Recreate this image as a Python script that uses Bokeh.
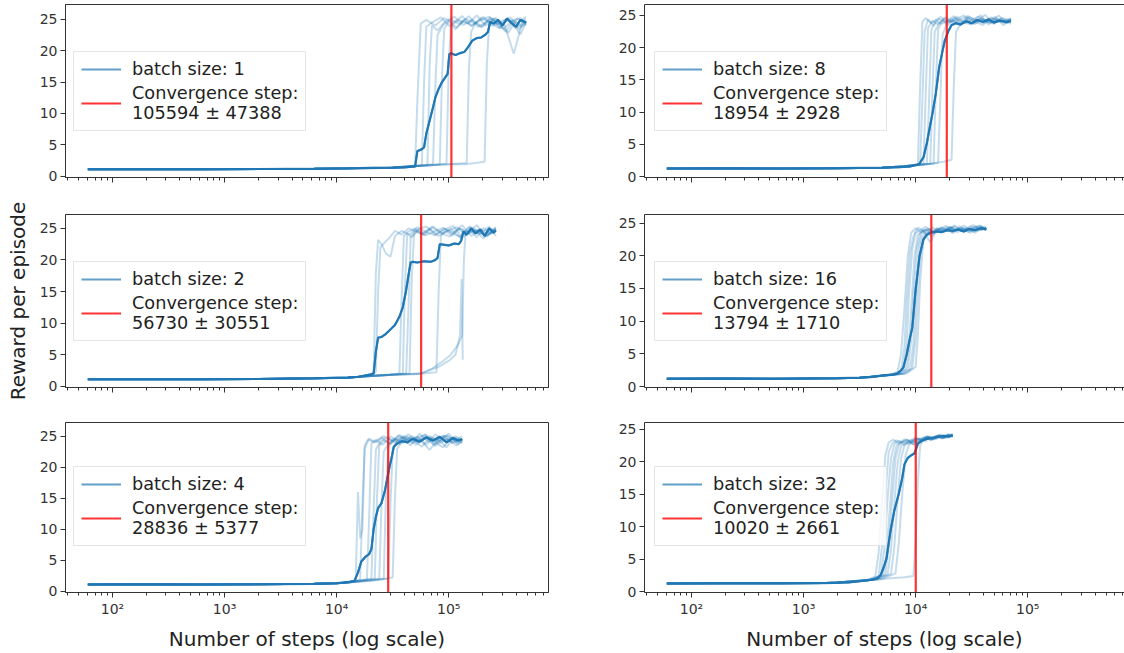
import numpy as np
from bokeh.plotting import figure
from bokeh.layouts import column, row
from bokeh.models import Range1d, FixedTicker, CustomJSTickFormatter, Legend, LegendItem, LogAxis
from bokeh.embed import file_html
from bokeh.resources import INLINE

# ---------------- data (x stored as log10 of the number of steps) ----------------
batch_sizes = [1, 2, 4, 8, 16, 32]
conv_mean = [105594, 56730, 28836, 18954, 13794, 10020]
conv_std = [47388, 30551, 5377, 2928, 1710, 2661]
y_tick_values = [0, 5, 10, 15, 20, 25]
x_tick_values = [1e2, 1e3, 1e4, 1e5]

# ---- batch size 1 ----
b1_base_lx = [1.78, 2.3, 2.8, 3.3, 3.8, 4.2]
b1_base_y = [1.10, 1.12, 1.10, 1.15, 1.20, 1.30]
b1_runs = [
    ([4.45, 4.62, 4.70, 4.72, 4.75, 4.80, 4.88, 4.96, 5.04, 5.12, 5.20, 5.28, 5.36, 5.44, 5.52, 5.60, 5.69],
     [1.3, 1.5, 1.7, 12.0, 24.3, 24.9, 24.0, 25.2, 24.4, 25.5, 23.9, 24.8, 25.4, 24.2, 25.0, 23.6, 24.7]),
    ([4.45, 4.65, 4.76, 4.78, 4.80, 4.86, 4.93, 5.01, 5.09, 5.17, 5.25, 5.33, 5.41, 5.49, 5.57, 5.64, 5.69],
     [1.35, 1.6, 1.8, 15.0, 23.8, 24.6, 25.3, 23.9, 24.9, 24.3, 25.6, 24.0, 25.1, 23.5, 24.8, 25.2, 24.0]),
    ([4.5, 4.7, 4.81, 4.83, 4.85, 4.9, 4.97, 5.05, 5.13, 5.21, 5.29, 5.37, 5.45, 5.53, 5.61, 5.69],
     [1.4, 1.6, 1.8, 18.0, 24.0, 23.2, 24.7, 25.4, 24.1, 24.9, 23.7, 25.3, 24.4, 22.8, 25.1, 24.3]),
    ([4.5, 4.75, 4.86, 4.88, 4.90, 4.95, 5.02, 5.10, 5.18, 5.26, 5.34, 5.42, 5.50, 5.58, 5.66, 5.69],
     [1.4, 1.7, 1.9, 14.0, 22.5, 24.1, 25.0, 24.2, 25.5, 23.8, 24.6, 25.2, 24.0, 19.5, 24.8, 25.0]),
    ([4.5, 4.8, 4.92, 4.94, 4.96, 5.0, 5.07, 5.15, 5.23, 5.31, 5.39, 5.47, 5.55, 5.63, 5.69],
     [1.4, 1.7, 1.9, 16.0, 23.5, 24.6, 23.7, 25.1, 24.3, 25.4, 23.9, 24.7, 25.3, 23.4, 24.6]),
    ([4.5, 4.85, 4.98, 5.00, 5.02, 5.06, 5.13, 5.21, 5.29, 5.37, 5.45, 5.53, 5.61, 5.69],
     [1.4, 1.8, 2.0, 18.0, 24.2, 23.4, 24.8, 24.0, 25.2, 24.5, 23.6, 25.0, 24.3, 25.4]),
    ([4.5, 4.8, 5.0, 5.16, 5.18, 5.20, 5.24, 5.30, 5.37, 5.44, 5.51, 5.58, 5.65, 5.69],
     [1.4, 1.7, 1.9, 2.1, 17.0, 23.0, 24.5, 23.8, 25.1, 24.2, 23.0, 24.9, 23.8, 24.6]),
    ([4.5, 4.8, 5.0, 5.15, 5.32, 5.34, 5.36, 5.40, 5.46, 5.52, 5.58, 5.64, 5.69],
     [1.4, 1.7, 1.9, 1.9, 2.3, 18.0, 24.0, 24.8, 23.5, 25.2, 24.1, 22.6, 24.5]),
]
b1_mean_lx = [1.78, 2.3, 2.8, 3.3, 3.8, 4.1, 4.3, 4.5, 4.6, 4.70, 4.72, 4.76, 4.78, 4.80, 4.83, 4.86, 4.88,
              4.91, 4.94, 4.96, 4.99, 5.005, 5.02, 5.06, 5.10, 5.14, 5.17, 5.21, 5.25, 5.29, 5.33, 5.35,
              5.37, 5.40, 5.44, 5.48, 5.52, 5.56, 5.60, 5.64, 5.69]
b1_mean_y = [1.10, 1.12, 1.10, 1.15, 1.20, 1.25, 1.30, 1.35, 1.40, 1.55, 4.0, 4.3, 4.6, 6.8, 8.9, 11.0, 12.5,
             13.9, 15.0, 15.5, 16.3, 19.4, 19.6, 19.3, 19.6, 19.8, 20.5, 21.6, 22.0, 22.1, 22.6, 23.0,
             24.6, 24.3, 24.9, 24.0, 25.1, 24.4, 23.8, 24.9, 24.5]

# ---- batch size 2 ----
b2_base_lx = [1.78, 2.3, 2.8, 3.3, 3.8, 4.1]
b2_base_y = [1.10, 1.12, 1.10, 1.15, 1.25, 1.35]
b2_runs = [
    ([4.2, 4.30, 4.33, 4.35, 4.37, 4.40, 4.44, 4.48, 4.52, 4.58, 4.65, 4.72, 4.80, 4.88, 4.96, 5.04, 5.12, 5.20, 5.28, 5.36, 5.42],
     [1.5, 1.9, 2.2, 18.0, 23.2, 22.5, 21.0, 20.5, 23.8, 24.6, 24.0, 25.2, 24.4, 23.9, 25.0, 24.3, 25.5, 23.8, 24.9, 24.2, 25.1]),
    ([4.2, 4.32, 4.35, 4.37, 4.39, 4.43, 4.47, 4.52, 4.58, 4.64, 4.71, 4.78, 4.86, 4.94, 5.02, 5.10, 5.18, 5.26, 5.34, 5.42],
     [1.5, 1.9, 2.3, 15.0, 22.0, 22.8, 23.5, 24.6, 24.0, 25.0, 24.5, 23.9, 25.3, 24.2, 24.9, 23.6, 25.2, 24.4, 23.8, 24.7]),
    ([4.2, 4.45, 4.56, 4.58, 4.60, 4.64, 4.70, 4.77, 4.85, 4.93, 5.01, 5.09, 5.17, 5.25, 5.33, 5.42],
     [1.5, 1.8, 2.0, 14.0, 23.8, 24.5, 25.0, 24.1, 25.2, 24.3, 23.7, 25.0, 24.4, 25.5, 23.9, 24.6]),
    ([4.2, 4.45, 4.59, 4.61, 4.63, 4.67, 4.73, 4.80, 4.88, 4.96, 5.04, 5.12, 5.20, 5.28, 5.36, 5.42],
     [1.5, 1.8, 2.0, 16.0, 24.2, 23.6, 24.9, 25.3, 24.0, 24.8, 25.4, 23.5, 24.6, 24.1, 25.3, 23.8]),
    ([4.2, 4.5, 4.62, 4.64, 4.66, 4.70, 4.76, 4.83, 4.91, 4.99, 5.07, 5.15, 5.23, 5.31, 5.38, 5.42],
     [1.5, 1.8, 2.0, 12.0, 23.5, 24.7, 24.1, 25.0, 23.8, 24.6, 25.2, 24.0, 24.8, 23.4, 25.0, 24.4]),
    ([4.2, 4.5, 4.65, 4.67, 4.69, 4.73, 4.79, 4.87, 4.95, 5.03, 5.11, 5.19, 5.27, 5.35, 5.42],
     [1.5, 1.8, 2.0, 17.0, 24.0, 24.8, 23.9, 24.5, 25.1, 24.2, 23.6, 25.3, 24.5, 24.0, 25.2]),
    ([4.2, 4.5, 4.7, 4.89, 4.91, 4.93, 4.97, 5.03, 5.10, 5.18, 5.26, 5.34, 5.42],
     [1.5, 1.8, 1.9, 2.2, 15.0, 23.8, 24.6, 23.9, 25.0, 24.2, 24.8, 23.7, 24.9]),
    ([4.2, 4.5, 4.75, 4.85, 4.95, 5.02, 5.08, 5.12, 5.135, 5.15, 5.19, 5.25, 5.31, 5.37, 5.42],
     [1.5, 1.8, 2.0, 2.8, 4.0, 5.0, 6.5, 8.0, 20.0, 24.0, 24.8, 23.6, 25.1, 24.3, 24.9]),
    ([4.2, 4.5, 4.75, 4.9, 5.0, 5.06, 5.10, 5.115, 5.125],
     [1.5, 1.8, 2.0, 3.0, 4.0, 5.0, 8.0, 17.0, 4.2]),
]
b2_mean_lx = [1.78, 2.3, 2.8, 3.3, 3.8, 4.1, 4.2, 4.3, 4.33, 4.35, 4.37, 4.40, 4.44, 4.48, 4.52, 4.56, 4.59,
              4.62, 4.64, 4.66, 4.68, 4.72, 4.78, 4.84, 4.88, 4.90, 4.92, 4.96, 5.00, 5.05, 5.09, 5.11,
              5.13, 5.16, 5.20, 5.24, 5.28, 5.32, 5.36, 5.40, 5.42]
b2_mean_y = [1.10, 1.12, 1.10, 1.15, 1.25, 1.40, 1.50, 1.85, 2.0, 5.5, 7.7, 7.8, 8.3, 9.0, 9.7, 11.0, 12.5,
             15.2, 17.5, 19.6, 19.7, 19.6, 19.8, 19.7, 20.0, 20.3, 22.5, 22.4, 22.3, 22.6, 22.5, 23.0,
             24.5, 24.0, 25.0, 24.2, 24.8, 23.8, 25.0, 24.3, 24.7]

# ---- batch size 4 ----
b4_base_lx = [1.78, 2.3, 2.8, 3.3, 3.8, 4.0]
b4_base_y = [1.10, 1.12, 1.08, 1.12, 1.20, 1.30]
b4_runs = [
    ([4.1, 4.17, 4.19, 4.21, 4.23, 4.25, 4.28, 4.33, 4.40, 4.48, 4.56, 4.64, 4.72, 4.80, 4.88, 4.96, 5.04, 5.12],
     [1.4, 1.8, 16.0, 8.5, 10.0, 23.5, 24.5, 24.0, 24.8, 23.7, 25.2, 24.3, 24.9, 23.6, 25.3, 24.2, 24.8, 24.4]),
    ([4.1, 4.21, 4.23, 4.25, 4.29, 4.35, 4.42, 4.50, 4.58, 4.66, 4.74, 4.82, 4.90, 4.98, 5.06, 5.12],
     [1.4, 1.9, 14.0, 23.0, 24.6, 24.0, 25.0, 24.2, 24.9, 23.5, 25.4, 24.1, 24.6, 23.2, 25.0, 24.3]),
    ([4.1, 4.27, 4.29, 4.31, 4.35, 4.41, 4.48, 4.56, 4.64, 4.72, 4.80, 4.88, 4.96, 5.04, 5.12],
     [1.4, 1.9, 12.0, 23.8, 24.4, 23.6, 24.9, 24.2, 25.3, 24.0, 24.7, 23.4, 25.1, 24.5, 23.9]),
    ([4.1, 4.31, 4.33, 4.35, 4.39, 4.45, 4.52, 4.60, 4.68, 4.76, 4.84, 4.92, 5.00, 5.08, 5.12],
     [1.4, 2.0, 13.0, 22.8, 24.2, 24.8, 23.9, 25.0, 24.4, 23.3, 24.9, 24.1, 25.4, 23.7, 24.5]),
    ([4.1, 4.34, 4.36, 4.38, 4.42, 4.48, 4.55, 4.63, 4.71, 4.79, 4.87, 4.95, 5.03, 5.12],
     [1.4, 2.0, 15.0, 23.5, 24.3, 23.8, 25.1, 24.0, 24.7, 25.2, 23.6, 24.8, 24.0, 25.0]),
    ([4.1, 4.38, 4.40, 4.42, 4.46, 4.52, 4.59, 4.67, 4.75, 4.83, 4.91, 4.99, 5.07, 5.12],
     [1.4, 2.0, 14.0, 22.5, 23.8, 24.6, 23.9, 25.0, 24.3, 22.8, 24.6, 25.1, 24.0, 24.6]),
    ([4.1, 4.42, 4.44, 4.46, 4.50, 4.56, 4.63, 4.71, 4.79, 4.87, 4.95, 5.03, 5.12],
     [1.4, 2.0, 16.0, 23.2, 24.5, 23.7, 24.9, 24.2, 25.3, 24.0, 23.2, 24.8, 24.1]),
    ([4.1, 4.3, 4.46, 4.48, 4.50, 4.54, 4.60, 4.67, 4.75, 4.83, 4.91, 4.99, 5.07, 5.12],
     [1.4, 1.7, 2.0, 14.0, 23.0, 24.2, 24.8, 23.9, 24.5, 25.0, 23.8, 24.6, 23.5, 24.2]),
    ([4.1, 4.3, 4.50, 4.52, 4.54, 4.58, 4.64, 4.71, 4.79, 4.87, 4.95, 5.03, 5.12],
     [1.4, 1.7, 2.2, 15.0, 23.0, 24.0, 24.6, 23.6, 24.9, 24.2, 25.1, 23.9, 24.5]),
]
b4_mean_lx = [1.78, 2.3, 2.8, 3.3, 3.8, 4.0, 4.06, 4.12, 4.16, 4.19, 4.22, 4.26, 4.29, 4.31, 4.33, 4.35, 4.37,
              4.40, 4.43, 4.45, 4.47, 4.49, 4.51, 4.54, 4.58, 4.63, 4.68, 4.74, 4.80, 4.86, 4.92, 4.98,
              5.04, 5.08, 5.12]
b4_mean_y = [1.10, 1.12, 1.08, 1.12, 1.20, 1.30, 1.40, 1.55, 1.70, 3.0, 4.8, 5.6, 6.0, 6.8, 10.0, 12.0, 13.4,
             14.2, 16.2, 18.0, 19.9, 21.5, 23.3, 23.8, 24.2, 24.0, 24.6, 24.1, 24.8, 24.3, 24.9, 24.0,
             24.7, 24.3, 24.5]

# ---- batch size 8 ----
b8_base_lx = [1.78, 2.3, 2.8, 3.3, 3.7]
b8_base_y = [1.25, 1.27, 1.25, 1.30, 1.35]
b8_runs = [
    ([3.9, 4.02, 4.04, 4.06, 4.09, 4.14, 4.20, 4.27, 4.34, 4.41, 4.48, 4.55, 4.62, 4.69, 4.76, 4.85],
     [1.6, 1.9, 14.0, 24.0, 24.6, 23.8, 24.5, 24.0, 24.9, 23.6, 24.7, 24.2, 25.1, 23.8, 24.5, 24.0]),
    ([3.9, 4.04, 4.06, 4.08, 4.11, 4.16, 4.22, 4.29, 4.36, 4.43, 4.50, 4.57, 4.64, 4.71, 4.78, 4.85],
     [1.6, 1.9, 12.0, 22.5, 24.4, 23.4, 24.8, 23.9, 24.4, 25.0, 23.7, 24.5, 23.9, 24.8, 23.5, 24.3]),
    ([3.9, 4.07, 4.09, 4.11, 4.15, 4.20, 4.26, 4.33, 4.40, 4.47, 4.54, 4.61, 4.68, 4.75, 4.85],
     [1.6, 2.0, 13.0, 23.0, 24.2, 23.6, 24.7, 24.1, 23.5, 24.9, 24.2, 23.8, 24.6, 24.0, 24.5]),
    ([3.9, 4.10, 4.12, 4.14, 4.18, 4.23, 4.30, 4.37, 4.44, 4.51, 4.58, 4.65, 4.72, 4.79, 4.85],
     [1.6, 2.0, 12.0, 22.8, 24.3, 23.7, 24.2, 24.8, 23.8, 24.4, 25.0, 23.6, 24.5, 24.1, 23.7]),
    ([3.9, 4.13, 4.15, 4.17, 4.21, 4.26, 4.32, 4.39, 4.46, 4.53, 4.60, 4.67, 4.74, 4.81, 4.85],
     [1.6, 2.0, 13.5, 22.5, 23.8, 24.5, 23.9, 24.3, 24.9, 23.7, 24.4, 24.0, 25.0, 23.9, 24.4]),
    ([3.9, 4.16, 4.18, 4.20, 4.24, 4.29, 4.35, 4.42, 4.49, 4.56, 4.63, 4.70, 4.77, 4.85],
     [1.6, 2.0, 14.0, 22.8, 24.2, 23.5, 24.6, 24.0, 23.6, 24.8, 24.1, 23.7, 24.6, 24.2]),
    ([3.9, 4.20, 4.22, 4.24, 4.28, 4.33, 4.39, 4.46, 4.53, 4.60, 4.67, 4.74, 4.81, 4.85],
     [1.6, 2.1, 12.0, 22.0, 23.8, 24.3, 23.8, 24.6, 24.0, 23.5, 24.7, 24.1, 23.8, 24.4]),
    ([3.9, 4.1, 4.25, 4.32, 4.34, 4.36, 4.40, 4.45, 4.52, 4.59, 4.66, 4.73, 4.80, 4.85],
     [1.6, 1.9, 2.3, 2.6, 14.0, 22.5, 23.6, 24.2, 23.7, 24.5, 23.9, 24.3, 24.0, 24.6]),
]
b8_mean_lx = [1.78, 2.3, 2.8, 3.3, 3.7, 3.85, 3.95, 4.03, 4.07, 4.10, 4.13, 4.15, 4.18, 4.21, 4.24, 4.26,
              4.29, 4.32, 4.36, 4.40, 4.45, 4.50, 4.55, 4.60, 4.65, 4.70, 4.75, 4.80, 4.85]
b8_mean_y = [1.25, 1.27, 1.25, 1.30, 1.38, 1.45, 1.55, 1.9, 3.0, 5.2, 8.0, 9.8, 12.9, 17.0, 19.5, 21.1,
             22.5, 23.5, 23.8, 23.6, 24.1, 23.8, 24.3, 24.0, 24.4, 23.9, 24.2, 24.0, 24.1]

# ---- batch size 16 ----
b16_base_lx = [1.78, 2.3, 2.8, 3.3, 3.5]
b16_base_y = [1.20, 1.22, 1.20, 1.28, 1.35]
b16_runs = [
    ([3.6, 3.78, 3.84, 3.87, 3.90, 3.93, 3.96, 4.00, 4.05, 4.10, 4.16, 4.22, 4.28, 4.34, 4.40, 4.46, 4.52, 4.58, 4.63],
     [1.5, 1.8, 2.3, 5.0, 12.0, 20.0, 23.5, 24.2, 23.6, 24.0, 23.4, 24.3, 23.8, 24.5, 23.9, 24.2, 23.7, 24.6, 24.0]),
    ([3.6, 3.80, 3.87, 3.90, 3.92, 3.95, 3.98, 4.02, 4.07, 4.13, 4.19, 4.25, 4.31, 4.37, 4.43, 4.49, 4.55, 4.63],
     [1.5, 1.8, 2.5, 6.0, 13.0, 20.5, 23.0, 24.3, 23.8, 22.0, 24.1, 23.6, 24.4, 23.9, 24.2, 23.5, 24.5, 24.1]),
    ([3.6, 3.82, 3.89, 3.92, 3.94, 3.97, 4.00, 4.04, 4.09, 4.15, 4.21, 4.27, 4.33, 4.39, 4.45, 4.51, 4.57, 4.63],
     [1.5, 1.8, 2.6, 6.5, 14.0, 21.0, 23.5, 23.9, 24.4, 23.7, 24.0, 24.6, 23.5, 24.2, 23.8, 24.7, 24.0, 24.3]),
    ([3.6, 3.84, 3.91, 3.94, 3.96, 3.99, 4.02, 4.06, 4.11, 4.17, 4.23, 4.29, 4.35, 4.41, 4.47, 4.53, 4.59, 4.63],
     [1.5, 1.9, 2.6, 6.0, 12.0, 20.0, 23.2, 23.8, 24.1, 23.6, 24.3, 23.9, 24.6, 23.7, 24.1, 23.5, 24.4, 24.0]),
    ([3.6, 3.86, 3.93, 3.96, 3.98, 4.01, 4.04, 4.08, 4.13, 4.19, 4.25, 4.31, 4.37, 4.43, 4.49, 4.55, 4.63],
     [1.5, 1.9, 2.7, 7.0, 14.0, 21.0, 23.4, 24.0, 23.5, 24.2, 23.8, 24.4, 23.6, 24.0, 24.5, 23.8, 24.2]),
    ([3.6, 3.88, 3.95, 3.98, 4.00, 4.03, 4.06, 4.10, 4.15, 4.21, 4.27, 4.33, 4.39, 4.45, 4.51, 4.57, 4.63],
     [1.5, 1.9, 2.6, 6.5, 13.5, 21.5, 23.8, 23.3, 24.3, 23.7, 24.1, 23.5, 24.5, 23.9, 24.2, 24.6, 23.9]),
    ([3.6, 3.90, 3.97, 4.00, 4.02, 4.05, 4.08, 4.12, 4.17, 4.23, 4.29, 4.35, 4.41, 4.47, 4.53, 4.59, 4.63],
     [1.5, 2.0, 2.8, 7.5, 15.0, 22.0, 23.6, 24.1, 23.4, 24.0, 24.4, 23.8, 24.2, 23.6, 24.5, 23.9, 24.3]),
    ([3.6, 3.92, 4.00, 4.02, 4.04, 4.07, 4.10, 4.14, 4.19, 4.25, 4.31, 4.37, 4.43, 4.49, 4.55, 4.63],
     [1.5, 2.0, 3.0, 8.0, 16.0, 22.5, 23.5, 23.0, 24.1, 23.7, 24.3, 23.9, 24.6, 23.8, 24.1, 24.4]),
]
b16_mean_lx = [1.78, 2.3, 2.8, 3.3, 3.5, 3.6, 3.71, 3.80, 3.84, 3.87, 3.89, 3.92, 3.95, 3.97, 4.00, 4.035,
               4.07, 4.10, 4.13, 4.18, 4.23, 4.28, 4.33, 4.38, 4.43, 4.48, 4.53, 4.58, 4.63]
b16_mean_y = [1.20, 1.22, 1.20, 1.28, 1.35, 1.45, 1.70, 1.85, 2.0, 2.5, 2.9, 4.9, 7.5, 9.0, 14.9, 20.0,
              22.5, 23.2, 23.5, 23.7, 23.6, 23.9, 23.8, 24.0, 23.7, 24.1, 23.9, 24.2, 24.0]

# ---- batch size 32 ----
b32_base_lx = [1.78, 2.3, 2.8, 3.2]
b32_base_y = [1.25, 1.27, 1.26, 1.30]
b32_runs = [
    ([3.3, 3.55, 3.64, 3.67, 3.70, 3.73, 3.76, 3.80, 3.85, 3.90, 3.95, 4.00, 4.05, 4.10, 4.15, 4.20, 4.25, 4.33],
     [1.4, 1.7, 2.3, 6.0, 14.0, 21.0, 23.0, 23.4, 22.8, 23.5, 23.0, 23.6, 23.3, 23.9, 23.5, 24.0, 23.7, 24.1]),
    ([3.3, 3.57, 3.67, 3.70, 3.73, 3.76, 3.79, 3.83, 3.88, 3.93, 3.98, 4.03, 4.08, 4.13, 4.18, 4.23, 4.28, 4.33],
     [1.4, 1.7, 2.4, 7.0, 15.0, 21.5, 22.8, 23.3, 23.0, 23.4, 22.7, 23.5, 23.8, 23.4, 24.0, 23.6, 24.2, 23.8]),
    ([3.3, 3.6, 3.69, 3.72, 3.75, 3.78, 3.81, 3.85, 3.90, 3.95, 4.00, 4.05, 4.10, 4.15, 4.20, 4.25, 4.33],
     [1.4, 1.8, 2.5, 6.5, 14.5, 20.5, 22.7, 23.2, 22.6, 23.3, 23.7, 23.2, 23.9, 23.5, 24.1, 23.8, 24.3]),
    ([3.3, 3.6, 3.71, 3.74, 3.77, 3.80, 3.83, 3.87, 3.92, 3.97, 4.02, 4.07, 4.12, 4.17, 4.22, 4.27, 4.33],
     [1.4, 1.8, 2.5, 6.0, 13.0, 20.0, 22.5, 23.0, 23.4, 22.9, 23.6, 23.3, 23.9, 23.6, 24.2, 23.8, 24.0]),
    ([3.3, 3.62, 3.73, 3.76, 3.79, 3.82, 3.85, 3.89, 3.94, 3.99, 4.04, 4.09, 4.14, 4.19, 4.24, 4.29, 4.33],
     [1.4, 1.8, 2.6, 7.0, 14.0, 20.5, 22.6, 23.1, 22.8, 23.4, 23.0, 23.7, 23.4, 24.0, 23.6, 24.2, 23.9]),
    ([3.3, 3.64, 3.75, 3.78, 3.81, 3.84, 3.87, 3.91, 3.96, 4.01, 4.06, 4.11, 4.16, 4.21, 4.26, 4.33],
     [1.4, 1.8, 2.6, 6.5, 13.5, 20.0, 22.4, 22.9, 23.3, 22.8, 23.5, 23.9, 23.4, 24.1, 23.7, 24.2]),
    ([3.3, 3.66, 3.78, 3.81, 3.84, 3.87, 3.90, 3.94, 3.99, 4.04, 4.09, 4.14, 4.19, 4.24, 4.29, 4.33],
     [1.4, 1.9, 2.7, 7.0, 14.5, 20.5, 22.5, 23.0, 22.6, 23.4, 23.8, 23.3, 24.0, 23.6, 24.2, 23.9]),
    ([3.3, 3.7, 3.82, 3.85, 3.88, 3.91, 3.94, 3.98, 4.03, 4.08, 4.13, 4.18, 4.23, 4.28, 4.33],
     [1.4, 1.9, 2.8, 7.5, 15.0, 21.0, 22.6, 23.2, 23.6, 23.1, 23.8, 23.5, 24.0, 23.7, 24.1]),
    ([3.3, 3.6, 3.75, 3.90, 3.98, 4.00, 4.02, 4.04, 4.07, 4.11, 4.15, 4.20, 4.25, 4.30, 4.33],
     [1.4, 1.8, 2.0, 2.2, 2.4, 8.0, 17.0, 22.5, 23.4, 23.8, 23.5, 24.0, 23.7, 24.2, 23.9]),
]
b32_mean_lx = [1.78, 2.3, 2.8, 3.2, 3.40, 3.56, 3.62, 3.66, 3.69, 3.72, 3.74, 3.76, 3.78, 3.81, 3.85, 3.88,
               3.90, 3.93, 3.96, 3.99, 4.02, 4.06, 4.10, 4.15, 4.20, 4.25, 4.30, 4.33]
b32_mean_y = [1.25, 1.27, 1.26, 1.30, 1.40, 1.70, 1.85, 2.05, 2.6, 4.0, 5.1, 7.5, 9.8, 12.5, 15.1, 17.5,
              19.6, 20.6, 21.0, 21.3, 22.8, 23.3, 23.5, 23.7, 23.8, 24.0, 23.9, 24.1]

# ---------------- styling ----------------
C0 = "#1f77b4"
AX = "#333333"
FONT = "DejaVu Sans"

# y-limits per panel (matplotlib autoscale look)
y_limits = {1: (-0.2, 27.35), 2: (-0.2, 27.2), 4: (-0.2, 27.2),
            8: (-0.15, 26.7), 16: (-0.15, 26.3), 32: (-0.15, 26.05)}

panel_data = {
    1: (b1_base_lx, b1_base_y, b1_runs, b1_mean_lx, b1_mean_y),
    2: (b2_base_lx, b2_base_y, b2_runs, b2_mean_lx, b2_mean_y),
    4: (b4_base_lx, b4_base_y, b4_runs, b4_mean_lx, b4_mean_y),
    8: (b8_base_lx, b8_base_y, b8_runs, b8_mean_lx, b8_mean_y),
    16: (b16_base_lx, b16_base_y, b16_runs, b16_mean_lx, b16_mean_y),
    32: (b32_base_lx, b32_base_y, b32_runs, b32_mean_lx, b32_mean_y),
}

minor = [m * 10 ** k for k in range(1, 6) for m in range(2, 10)]

SUP_CODE = """
const sup = {'0':'\u2070','1':'\u00b9','2':'\u00b2','3':'\u00b3','4':'\u2074','5':'\u2075','6':'\u2076'};
const e = Math.round(Math.log10(tick));
return '10' + String(e).split('').map(c => sup[c]).join('');
"""

row_h = [195, 210, 248]
row_top = [4, 19, 17]
row_bot = [18, 18, 58]


def make_panel(b, col, r):
    base_lx, base_y, runs, mean_lx, mean_y = panel_data[b]
    if col == 0:
        w, bl, br = 596, 65, 48
        x_end = 10 ** 5.89
    else:
        w, bl, br = 528, 48, 0
        x_end = 10 ** 5.863
    y0, y1 = y_limits[b]
    p = figure(x_axis_type="log", width=w, height=row_h[r],
               x_range=Range1d(10 ** 1.581, x_end), y_range=Range1d(y0, y1),
               output_backend="svg", toolbar_location=None,
               min_border_left=bl, min_border_right=br,
               min_border_top=row_top[r], min_border_bottom=row_bot[r])
    p.xgrid.visible = False
    p.ygrid.visible = False
    p.background_fill_color = "white"
    p.border_fill_color = "white"

    xa = p.below[0]
    ya = p.left[0]

    for lx, yy in runs:
        xs = np.power(10.0, np.array(base_lx + lx))
        p.line(xs, base_y + yy, color=C0, alpha=0.26, line_width=2.0)

    mx = np.power(10.0, np.array(mean_lx))
    # legend handle for the batch (drawn underneath the mean curve)
    h1 = p.line(mx, mean_y, color=C0, alpha=0.7, line_width=2.2)
    p.line(mx, mean_y, color=C0, line_width=2.0)

    i = batch_sizes.index(b)
    m, s = conv_mean[i], conv_std[i]
    h2 = p.line([m, m], [y0, y1], color="red", alpha=0.8, line_width=2.2)

    leg = Legend(items=[LegendItem(label=f"batch size: {b}", renderers=[h1]),
                        LegendItem(label=f"Convergence step:\n{m} \u00b1 {s}", renderers=[h2])],
                 location=(8 if col == 0 else 10, 46))
    leg.label_text_font = FONT
    leg.label_text_font_size = "17.7px"
    leg.label_text_color = "#222222"
    leg.glyph_width = 40
    leg.glyph_height = 20
    leg.label_standoff = 11
    leg.padding = 7
    leg.spacing = 4
    leg.margin = 0
    leg.border_line_color = "#cccccc"
    leg.border_line_width = 1
    leg.background_fill_alpha = 0.8
    p.add_layout(leg)

    xa.ticker = FixedTicker(ticks=x_tick_values, minor_ticks=minor)
    xa.formatter = CustomJSTickFormatter(code=SUP_CODE if r == 2 else "return '';")
    ya.ticker = FixedTicker(ticks=y_tick_values, minor_ticks=[])
    for ax in (xa, ya):
        ax.axis_line_color = AX
        ax.major_tick_line_color = AX
        ax.minor_tick_line_color = AX
        ax.major_tick_in = 0
        ax.major_tick_out = 5
        ax.minor_tick_in = 0
        ax.minor_tick_out = 3
        ax.major_label_text_font = FONT
        ax.major_label_text_font_size = "14px"
        ax.major_label_text_color = AX
        ax.major_label_standoff = 3
    if r == 2:
        xa.axis_label = "Number of steps (log scale)"
        xa.axis_label_text_font = FONT
        xa.axis_label_text_font_size = "20px"
        xa.axis_label_text_font_style = "normal"
        xa.axis_label_text_color = "#222222"
        xa.axis_label_standoff = 7
    if r == 1 and col == 0:
        ya.axis_label = "Reward per episode"
        ya.axis_label_text_font = FONT
        ya.axis_label_text_font_size = "20px"
        ya.axis_label_text_font_style = "normal"
        ya.axis_label_text_color = "#222222"
        ya.axis_label_standoff = 7

    if col == 0:
        p.outline_line_color = AX
        p.outline_line_width = 1
    else:
        # right column: the right-hand spine lies beyond the window edge,
        # so only a top spine is drawn (as a bare axis line)
        p.outline_line_color = None
        top = LogAxis(ticker=FixedTicker(ticks=[]),
                      formatter=CustomJSTickFormatter(code="return '';"),
                      axis_line_color=AX, major_tick_out=0, major_tick_in=0,
                      minor_tick_out=0, minor_tick_in=0, major_label_standoff=0,
                      major_label_text_font_size="0px")
        p.add_layout(top, "above")
    return p


left = [make_panel(b, 0, r) for r, b in enumerate([1, 2, 4])]
right = [make_panel(b, 1, r) for r, b in enumerate([8, 16, 32])]
layout = column(*[row(left[r], right[r]) for r in range(3)])

open("out.html", "w").write(file_html(layout, INLINE))
